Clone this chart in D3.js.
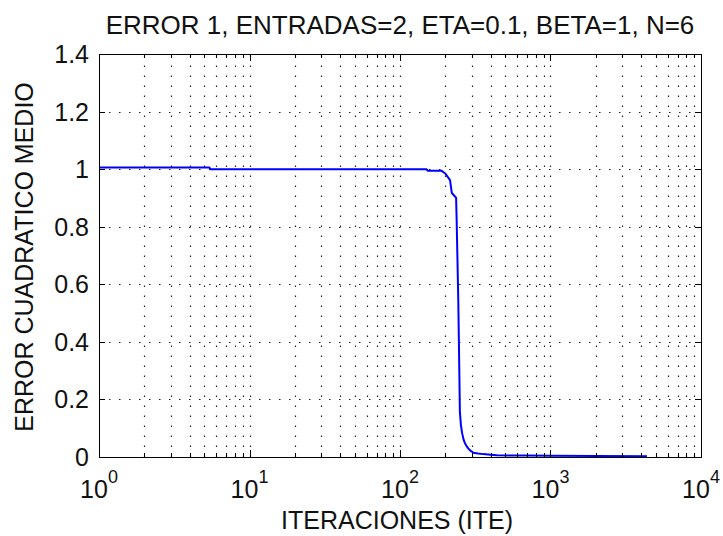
<!DOCTYPE html>
<html>
<head>
<meta charset="utf-8">
<script src="https://cdn.jsdelivr.net/npm/d3@7"></script>
<style>
  body { margin: 0; background: #fff; }
  svg { display: block; }
  text { font-family: "Liberation Sans", Arial, sans-serif; fill: #111; }
</style>
</head>
<body>
<div id="chart"></div>
<script>
// iterations (x, log scale) and mean squared error (y)
let iterations = [1, 5.4, 5.5, 150, 153, 189, 200, 215, 221, 232, 236, 238, 241, 244, 247, 250, 254, 259, 264, 270, 277, 284, 295, 307, 330, 357, 400, 439, 700, 1000, 2000, 4375];
let errors = [1.006, 1.006, 1.0, 1.0, 0.994, 0.994, 0.985, 0.962, 0.917, 0.905, 0.90, 0.82, 0.68, 0.54, 0.35, 0.157, 0.11, 0.082, 0.062, 0.048, 0.038, 0.030, 0.021, 0.015, 0.012, 0.010, 0.008, 0.006, 0.005, 0.004, 0.0035, 0.003];

let xTickExponents = [0, 1, 2, 3, 4];
let yTicks = [0, 0.2, 0.4, 0.6, 0.8, 1, 1.2, 1.4];
let yTickLabels = ["0", "0.2", "0.4", "0.6", "0.8", "1", "1.2", "1.4"];

let titleText = "ERROR 1, ENTRADAS=2, ETA=0.1, BETA=1, N=6";
let xLabelText = "ITERACIONES (ITE)";
let yLabelText = "ERROR CUADRATICO MEDIO";

let width = 723, height = 536;
let plotLeft = 99, plotRight = 701, plotTop = 54, plotBottom = 457;

let x = d3.scaleLog().domain([1, 1e4]).range([plotLeft, plotRight]);
let y = d3.scaleLinear().domain([0, 1.4]).range([plotBottom, plotTop]);

let svg = d3.select("#chart").append("svg")
    .attr("width", width)
    .attr("height", height);

// minor + major log positions
let minorX = [];
for (let e = 0; e < 4; e += 1) {
    for (let m = 2; m <= 9; m += 1) minorX.push(m * Math.pow(10, e));
}
let majorX = xTickExponents.map(e => Math.pow(10, e));

// grid
let grid = svg.append("g")
    .attr("stroke", "#222")
    .attr("stroke-width", 1.2)
    .attr("stroke-dasharray", "1.5 8.5");

grid.selectAll("line.vx")
    .data(minorX.concat(majorX.slice(1, -1)))
    .join("line")
    .attr("x1", d => Math.round(x(d)) + 0.5)
    .attr("x2", d => Math.round(x(d)) + 0.5)
    .attr("y1", plotBottom)
    .attr("y2", plotTop);

grid.selectAll("line.hy")
    .data(yTicks.slice(1, -1))
    .join("line")
    .attr("x1", plotLeft)
    .attr("x2", plotRight)
    .attr("y1", d => Math.round(y(d)) + 0.5)
    .attr("y2", d => Math.round(y(d)) + 0.5);

// data line
let line = d3.line()
    .x((d, i) => x(iterations[i]))
    .y(d => y(d));

svg.append("path")
    .datum(errors)
    .attr("fill", "none")
    .attr("stroke", "#0000ff")
    .attr("stroke-width", 2)
    .attr("stroke-linejoin", "round")
    .attr("d", line);

// ticks (inside, on all four sides)
let ticks = svg.append("g").attr("stroke", "#000").attr("stroke-width", 1);

majorX.forEach(v => {
    let px = Math.round(x(v)) + 0.5;
    ticks.append("line").attr("x1", px).attr("x2", px).attr("y1", plotBottom).attr("y2", plotBottom - 7);
    ticks.append("line").attr("x1", px).attr("x2", px).attr("y1", plotTop).attr("y2", plotTop + 7);
});
minorX.forEach(v => {
    let px = Math.round(x(v)) + 0.5;
    ticks.append("line").attr("x1", px).attr("x2", px).attr("y1", plotBottom).attr("y2", plotBottom - 4);
    ticks.append("line").attr("x1", px).attr("x2", px).attr("y1", plotTop).attr("y2", plotTop + 4);
});
yTicks.forEach(v => {
    let py = Math.round(y(v)) + 0.5;
    ticks.append("line").attr("x1", plotLeft).attr("x2", plotLeft + 6).attr("y1", py).attr("y2", py);
    ticks.append("line").attr("x1", plotRight).attr("x2", plotRight - 6).attr("y1", py).attr("y2", py);
});

// box
svg.append("rect")
    .attr("x", plotLeft + 0.5)
    .attr("y", plotTop + 0.5)
    .attr("width", plotRight - plotLeft)
    .attr("height", plotBottom - plotTop)
    .attr("fill", "none")
    .attr("stroke", "#000")
    .attr("stroke-width", 1);

// y tick labels
svg.append("g").selectAll("text")
    .data(yTicks)
    .join("text")
    .attr("x", plotLeft - 10)
    .attr("y", d => y(d) + 9)
    .attr("text-anchor", "end")
    .attr("font-size", 25)
    .text((d, i) => yTickLabels[i]);

// x tick labels: 10^e
let xLabels = svg.append("g").selectAll("text")
    .data(xTickExponents)
    .join("text")
    .attr("x", d => x(Math.pow(10, d)))
    .attr("y", 498)
    .attr("text-anchor", "middle")
    .attr("font-size", 25);
xLabels.append("tspan").text("10");
xLabels.append("tspan")
    .attr("font-size", 18)
    .attr("dy", -15)
    .text(d => d);

// title and axis labels
svg.append("text")
    .attr("x", (plotLeft + plotRight) / 2)
    .attr("y", 34)
    .attr("text-anchor", "middle")
    .attr("font-size", 26)
    .text(titleText);

svg.append("text")
    .attr("x", 397)
    .attr("y", 529)
    .attr("text-anchor", "middle")
    .attr("font-size", 25)
    .text(xLabelText);

svg.append("text")
    .attr("transform", "translate(33,257) rotate(-90)")
    .attr("text-anchor", "middle")
    .attr("font-size", 25)
    .text(yLabelText);
</script>
</body>
</html>
